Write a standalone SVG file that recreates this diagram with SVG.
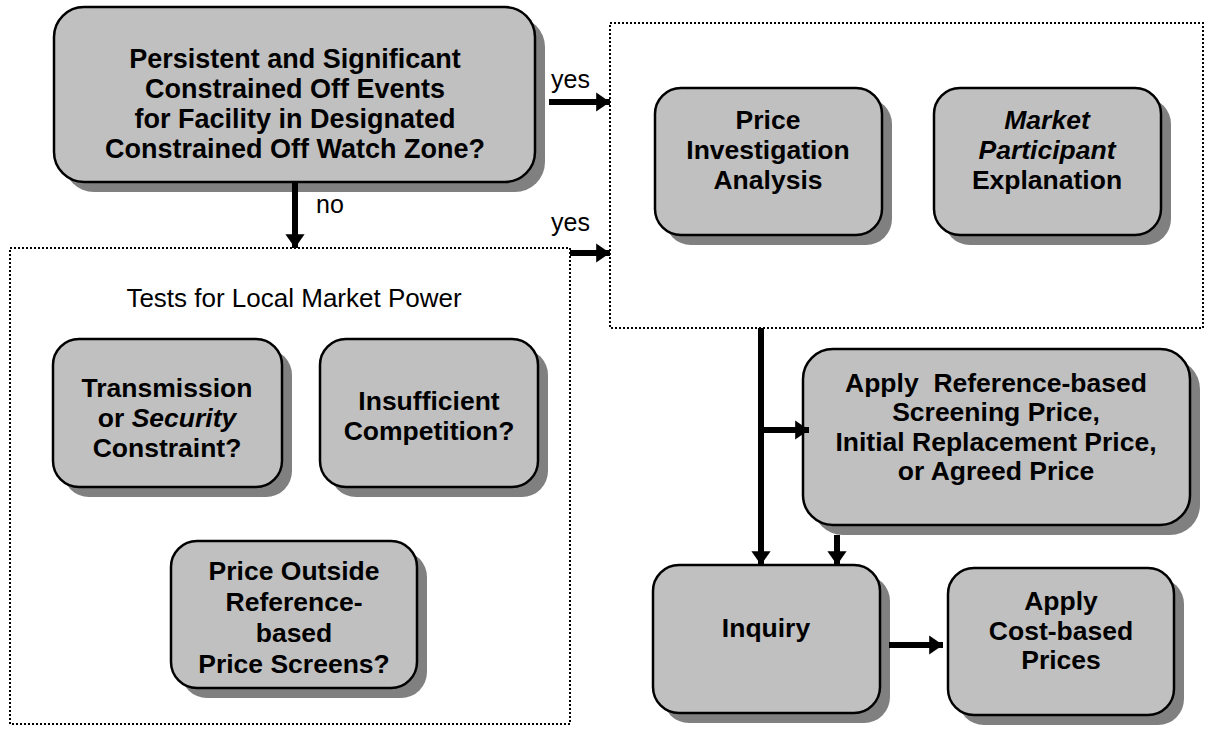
<svg xmlns="http://www.w3.org/2000/svg" width="1209" height="729" viewBox="0 0 1209 729">
<defs>
<style>
.box{fill:#c0c0c0;stroke:#000;stroke-width:2.5}
.sh{fill:#808080}
.t{font-family:"Liberation Sans",Arial,sans-serif;font-weight:bold;font-size:26.5px;text-anchor:middle;fill:#000}
.tb{font-size:27px}
.lbl{font-family:"Liberation Sans",Arial,sans-serif;font-size:25px;fill:#000}
.ti{font-family:"Liberation Sans",Arial,sans-serif;font-size:26px;text-anchor:middle;fill:#000}
.dot{fill:none;stroke:#000;stroke-width:2;stroke-dasharray:2 2}
.ln{fill:none;stroke:#000;stroke-width:6}
</style>
<marker id="ah" markerWidth="3" markerHeight="4" refX="2.3" refY="1.6" orient="auto" markerUnits="strokeWidth">
<path d="M0,0 L2.3,1.6 L0,3.2 Z" fill="#000"/>
</marker>
</defs>
<rect width="1209" height="729" fill="#fff"/>

<g id="group-tests">
<rect class="dot" x="10" y="248" width="560" height="476"/>
<text class="ti" x="294" y="307">Tests for Local Market Power</text>
</g>
<g id="group-investigation">
<rect class="dot" x="610" y="23" width="593" height="305"/>
</g>

<g id="node-constrained">
<rect class="sh" x="64" y="17" width="481" height="175" rx="30"/>
<rect class="box" x="54" y="7" width="481" height="175" rx="30"/>
<text class="t tb" x="295" y="68">Persistent and Significant</text>
<text class="t tb" x="295" y="98">Constrained Off Events</text>
<text class="t tb" x="295" y="128">for Facility in Designated</text>
<text class="t tb" x="295" y="158">Constrained Off Watch Zone?</text>
</g>

<g id="node-price-investigation">
<rect class="sh" x="665" y="98" width="227" height="147" rx="26"/>
<rect class="box" x="655" y="88" width="227" height="147" rx="26"/>
<text class="t" x="768" y="129">Price</text>
<text class="t" x="768" y="159">Investigation</text>
<text class="t" x="768" y="189">Analysis</text>
</g>

<g id="node-market-participant">
<rect class="sh" x="944" y="98" width="227" height="147" rx="26"/>
<rect class="box" x="934" y="88" width="227" height="147" rx="26"/>
<text class="t" x="1047" y="129" font-style="italic">Market</text>
<text class="t" x="1047" y="159" font-style="italic">Participant</text>
<text class="t" x="1047" y="189">Explanation</text>
</g>

<g id="node-transmission">
<rect class="sh" x="63" y="349" width="229" height="148" rx="26"/>
<rect class="box" x="53" y="339" width="229" height="148" rx="26"/>
<text class="t" x="167" y="397">Transmission</text>
<text class="t" x="167" y="427">or <tspan font-style="italic">Security</tspan></text>
<text class="t" x="167" y="457">Constraint?</text>
</g>

<g id="node-insufficient">
<rect class="sh" x="330" y="349" width="218" height="148" rx="26"/>
<rect class="box" x="320" y="339" width="218" height="148" rx="26"/>
<text class="t" x="429" y="410">Insufficient</text>
<text class="t" x="429" y="440">Competition?</text>
</g>

<g id="node-price-outside">
<rect class="sh" x="181" y="551" width="246" height="147" rx="26"/>
<rect class="box" x="171" y="541" width="246" height="147" rx="26"/>
<text class="t" x="294" y="580">Price Outside</text>
<text class="t" x="294" y="611">Reference-</text>
<text class="t" x="294" y="642">based</text>
<text class="t" x="294" y="673">Price Screens?</text>
</g>

<g id="node-apply-reference">
<rect class="sh" x="813" y="359" width="387" height="176" rx="30"/>
<rect class="box" x="803" y="349" width="387" height="176" rx="30"/>
<text class="t" x="996" y="392" xml:space="preserve">Apply  Reference-based</text>
<text class="t" x="996" y="421">Screening Price,</text>
<text class="t" x="996" y="451">Initial Replacement Price,</text>
<text class="t" x="996" y="480">or Agreed Price</text>
</g>

<g id="node-inquiry">
<rect class="sh" x="663" y="575" width="227" height="148" rx="26"/>
<rect class="box" x="653" y="565" width="227" height="148" rx="26"/>
<text class="t" x="766" y="637">Inquiry</text>
</g>

<g id="node-cost-based">
<rect class="sh" x="958" y="578" width="226" height="147" rx="26"/>
<rect class="box" x="948" y="568" width="226" height="147" rx="26"/>
<text class="t" x="1061" y="610">Apply</text>
<text class="t" x="1061" y="640">Cost-based</text>
<text class="t" x="1061" y="669">Prices</text>
</g>

<g id="connectors">
<line class="ln" x1="549" y1="102" x2="610" y2="102" marker-end="url(#ah)"/>
<text class="lbl" x="551" y="88">yes</text>
<line class="ln" x1="295" y1="182" x2="295" y2="248" marker-end="url(#ah)"/>
<text class="lbl" x="316" y="213">no</text>
<line class="ln" x1="570" y1="253" x2="610" y2="253" marker-end="url(#ah)"/>
<text class="lbl" x="551" y="231">yes</text>
<line class="ln" x1="761" y1="328" x2="761" y2="565" marker-end="url(#ah)"/>
<line class="ln" x1="761" y1="430" x2="809" y2="430" marker-end="url(#ah)"/>
<line class="ln" x1="837" y1="535" x2="837" y2="565" marker-end="url(#ah)"/>
<line class="ln" x1="889" y1="645" x2="943" y2="645" marker-end="url(#ah)"/>
</g>
</svg>
